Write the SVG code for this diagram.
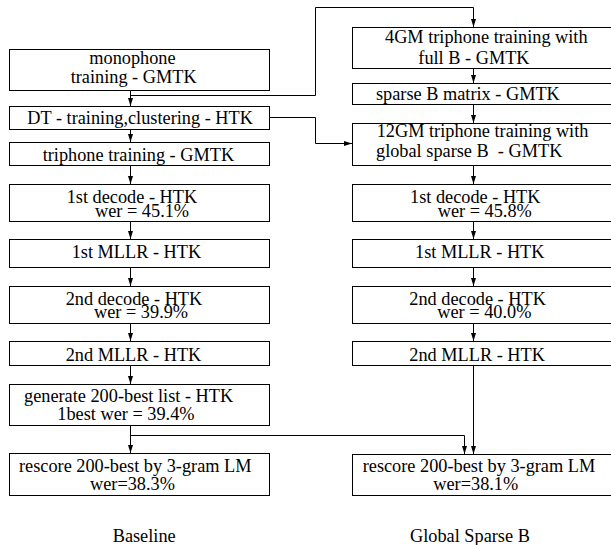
<svg xmlns="http://www.w3.org/2000/svg" width="611" height="545" viewBox="0 0 611 545">
<defs>
<marker id="ah" viewBox="0 0 8 5" refX="8" refY="2.5" markerWidth="8" markerHeight="5" markerUnits="userSpaceOnUse" orient="auto">
<path d="M0,0 L8,2.5 L0,5 z" fill="#000"/>
</marker>
<style>
rect{fill:#fff;stroke:#000;stroke-width:1}
text{font-family:"Liberation Serif","Times New Roman",serif;font-size:18.3px;fill:#000}
.c path{fill:none;stroke:#000;stroke-width:1}
.a{marker-end:url(#ah)}
</style>
</defs>
<rect x="0" y="0" width="611" height="545" style="stroke:none"/>
<g class="c" id="connectors">
<path class="a" d="M130.5,90.5 V106"/>
<path class="a" d="M130.5,95.5 H315.5 V7.5 H473.5 V27"/>
<path class="a" d="M130.5,129.5 V142"/>
<path class="a" d="M269.5,117.5 H315.5 V143.5 H352"/>
<path class="a" d="M130.5,165.5 V184"/>
<path class="a" d="M130.5,221.5 V239"/>
<path class="a" d="M130.5,267.5 V286"/>
<path class="a" d="M130.5,323.5 V341"/>
<path class="a" d="M130.5,365.5 V384"/>
<path class="a" d="M130.5,425.5 V453"/>
<path class="a" d="M130.5,435.5 H464.5 V454"/>
<path class="a" d="M473.5,68.5 V83"/>
<path class="a" d="M473.5,104.5 V123"/>
<path class="a" d="M473.5,165.5 V184"/>
<path class="a" d="M473.5,221.5 V239"/>
<path class="a" d="M473.5,267.5 V286"/>
<path class="a" d="M473.5,323.5 V341"/>
<path class="a" d="M473.5,365.5 V454"/>
</g>
<g id="monophone"><rect x="9.5" y="49.5" width="260" height="41"/><text x="89.3" y="64">monophone</text><text x="70.7" y="83.3">training - GMTK</text></g>
<g id="dt"><rect x="9.5" y="106.5" width="260" height="23"/><text x="27.3" y="124">DT - training,clustering - HTK</text></g>
<g id="triphone"><rect x="9.5" y="142.5" width="260" height="23"/><text x="42.7" y="161">triphone training - GMTK</text></g>
<g id="l-decode1"><rect x="9.5" y="184.5" width="260" height="37"/><text x="66.7" y="203.3">1st decode - HTK</text><text x="95" y="216.7">wer = 45.1%</text></g>
<g id="l-mllr1"><rect x="9.5" y="239.5" width="260" height="28"/><text x="71.7" y="258.3">1st MLLR - HTK</text></g>
<g id="l-decode2"><rect x="9.5" y="286.5" width="260" height="37"/><text x="65.7" y="305">2nd decode - HTK</text><text x="94" y="318.3">wer = 39.9%</text></g>
<g id="l-mllr2"><rect x="9.5" y="341.5" width="260" height="24"/><text x="65.7" y="360.7">2nd MLLR - HTK</text></g>
<g id="generate"><rect x="9.5" y="384.5" width="260" height="41"/><text x="24" y="401.7">generate 200-best list - HTK</text><text x="57.3" y="420">1best wer = 39.4%</text></g>
<g id="l-rescore"><rect x="9.5" y="453.5" width="260" height="42"/><text x="19" y="471.7">rescore 200-best by 3-gram LM</text><text x="90" y="490">wer=38.3%</text></g>
<g id="gm4"><rect x="352.5" y="27.5" width="262" height="41"/><text x="385" y="43.3">4GM triphone training with</text><text x="418.3" y="64">full B - GMTK</text></g>
<g id="sparse"><rect x="352.5" y="83.5" width="262" height="21"/><text x="376" y="100">sparse B matrix - GMTK</text></g>
<g id="gm12"><rect x="352.5" y="123.5" width="262" height="42"/><text x="376.7" y="136.7">12GM triphone training with</text><text x="376" y="157" xml:space="preserve">global sparse B  - GMTK</text></g>
<g id="r-decode1"><rect x="352.5" y="184.5" width="262" height="37"/><text x="410" y="203.3">1st decode - HTK</text><text x="437.7" y="216.7">wer = 45.8%</text></g>
<g id="r-mllr1"><rect x="352.5" y="239.5" width="262" height="28"/><text x="415" y="258.3">1st MLLR - HTK</text></g>
<g id="r-decode2"><rect x="352.5" y="286.5" width="262" height="37"/><text x="409.3" y="305">2nd decode - HTK</text><text x="437.3" y="318.3">wer = 40.0%</text></g>
<g id="r-mllr2"><rect x="352.5" y="341.5" width="262" height="24"/><text x="409.3" y="360.7">2nd MLLR - HTK</text></g>
<g id="r-rescore"><rect x="352.5" y="454.5" width="262" height="41"/><text x="362.7" y="471.7">rescore 200-best by 3-gram LM</text><text x="433.3" y="490">wer=38.1%</text></g>
<g id="labels"><text x="112.7" y="541.7">Baseline</text><text x="410" y="541.7">Global Sparse B</text></g>
</svg>
